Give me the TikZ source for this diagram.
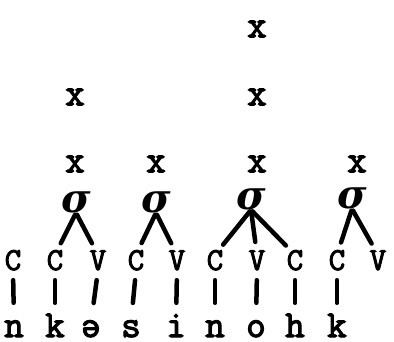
\documentclass[tikz,border=0pt]{standalone}
\usepackage{fontspec}
\newfontfamily\twfont{Latin Modern Mono}[FakeBold=3]
\newfontfamily\sigmafont{DejaVu Serif}
\usetikzlibrary{positioning}
\tikzset{
  gridx/.style={font=\twfont\fontsize{38}{38}\selectfont, inner sep=0pt},
  syl/.style={font=\sigmafont\bfseries\itshape\fontsize{40}{40}\selectfont, inner sep=0pt},
  seg/.style={font=\twfont\fontsize{32}{32}\selectfont, inner sep=0pt,
    text height=15pt, text depth=0pt, anchor=base},
  phone/.style={font=\twfont\fontsize{38}{38}\selectfont, inner sep=0pt,
    text height=14pt, text depth=0pt, anchor=base},
  branch/.style={line width=4.5pt, line cap=round, shorten <=2pt, shorten >=13pt},
  link/.style={line width=4.5pt, line cap=round, shorten <=10pt, shorten >=20pt}
}
\begin{document}
\begin{tikzpicture}[x=1pt,y=-1pt]
\useasboundingbox (0,0) rectangle (394,341);
% metrical grid
\node[gridx] (g3) at (257,29) {x};
\node[gridx] (g21) at (75,97) {x};
\node[gridx] (g23) at (257,97) {x};
\node[gridx] (g11) at (75,164) {x};
\node[gridx] (g12) at (156,164) {x};
\node[gridx] (g13) at (257,164) {x};
\node[gridx] (g14) at (357,164) {x};
% syllables
\node[syl] (s1) at (76,202) {σ};
\node[syl] (s2) at (156,202) {σ};
\node[syl] (s3) at (251,199) {σ};
\node[syl] (s4) at (352,198) {σ};
% skeleton
\node[seg] (c1) at (13,270) {C};
\node[seg] (c2) at (55,270) {C};
\node[seg] (v1) at (98,270) {V};
\node[seg] (c3) at (136,270) {C};
\node[seg] (v2) at (177,270) {V};
\node[seg] (c4) at (215,270) {C};
\node[seg] (v3) at (257,270) {V};
\node[seg] (c5) at (295,270) {C};
\node[seg] (c6) at (337,270) {C};
\node[seg] (v4) at (378,270) {V};
% melody
\node[phone] (p1) at (14,337) {n};
\node[phone] (p2) at (55,337) {k};
\node[phone] (p3) at (91,337) {ə};
\node[phone] (p4) at (131,337) {s};
\node[phone] (p5) at (176,337) {i};
\node[phone] (p6) at (215,337) {n};
\node[phone] (p7) at (256,337) {o};
\node[phone] (p8) at (295,337) {h};
\node[phone] (p9) at (337,337) {k};
% syllable structure
\draw[branch] (s1.south) -- (c2.north);
\draw[branch] (s1.south) -- (v1.north);
\draw[branch] (s2.south) -- (c3.north);
\draw[branch] (s2.south) -- (v2.north);
\draw[branch] (s3.south) -- (c4.north);
\draw[branch] (s3.south) -- (v3.north);
\draw[branch] (s3.south) -- (c5.north);
\draw[branch] (s4.south) -- (c6.north);
\draw[branch] (s4.south) -- (v4.north);
% association lines
\draw[link] (c1.south) -- (p1.north);
\draw[link] (c2.south) -- (p2.north);
\draw[link] (v1.south) -- (p3.north);
\draw[link] (c3.south) -- (p4.north);
\draw[link] (v2.south) -- (p5.north);
\draw[link] (c4.south) -- (p6.north);
\draw[link] (v3.south) -- (p7.north);
\draw[link] (c5.south) -- (p8.north);
\draw[link] (c6.south) -- (p9.north);
\end{tikzpicture}
\end{document}
